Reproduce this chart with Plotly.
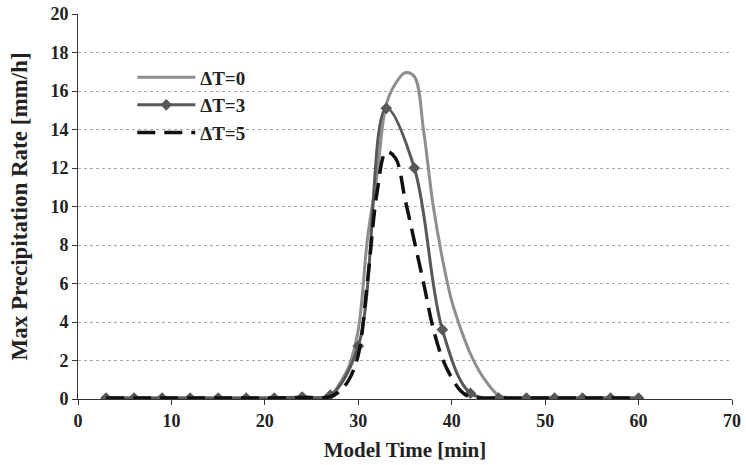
import plotly.graph_objects as go

# ΔT=3: data points (markers) every 3 minutes
time_3 = [3, 6, 9, 12, 15, 18, 21, 24, 27, 30, 33, 36, 39, 42, 45, 48, 51, 54, 57, 60]
dT3 = [0.05, 0.05, 0.05, 0.05, 0.05, 0.05, 0.05, 0.1, 0.2, 2.75, 15.1, 12.0, 3.6, 0.3, 0.05, 0.05, 0.05, 0.05, 0.05, 0.05]

# ΔT=0 and ΔT=5: no markers
time_0 = [3, 6, 9, 12, 15, 18, 21, 24, 27, 28, 29, 30, 31, 32, 33, 34, 35, 36, 37, 38, 39, 40, 41, 42, 43, 44, 45, 46, 48, 51, 54, 57, 60]
dT0 = [0.05, 0.05, 0.05, 0.05, 0.05, 0.05, 0.05, 0.08, 0.15, 0.8, 1.7, 3.6, 8.4, 11.6, 15.3, 16.4, 16.95, 16.75, 13.9, 10.1, 7.3, 5.1, 3.6, 2.35, 1.4, 0.7, 0.2, 0.06, 0.05, 0.05, 0.05, 0.05, 0.05]
time_5 = [3, 6, 9, 12, 15, 18, 21, 24, 27, 28, 29, 30, 31, 32, 33, 34, 35, 36, 37, 38, 39, 40, 41, 42, 45, 48, 51, 54, 57, 60]
dT5 = [0.05, 0.05, 0.05, 0.05, 0.05, 0.05, 0.05, 0.08, 0.12, 0.4, 1.0, 2.3, 6.2, 10.7, 12.85, 12.5, 10.4, 8.2, 6.0, 3.7, 2.1, 1.1, 0.4, 0.1, 0.05, 0.05, 0.05, 0.05, 0.05, 0.05]

names = ["ΔT=0", "ΔT=3", "ΔT=5"]

font_family = "Liberation Serif"

fig = go.Figure()
fig.add_trace(go.Scatter(x=time_0, y=dT0, name=names[0], mode="lines",
                         line=dict(color="#8e8e8e", width=3, shape="spline", smoothing=1.0)))
fig.add_trace(go.Scatter(x=time_3, y=dT3, name=names[1], mode="lines+markers",
                         line=dict(color="#585858", width=3, shape="spline", smoothing=1.0),
                         marker=dict(symbol="diamond", size=9, color="#585858")))
fig.add_trace(go.Scatter(x=time_5, y=dT5, name=names[2], mode="lines",
                         line=dict(color="#111111", width=3.5, shape="spline", smoothing=1.0,
                                   dash="18px,9px")))

fig.update_layout(
    width=746, height=465,
    margin=dict(l=78, r=14, t=14, b=66),
    paper_bgcolor="white", plot_bgcolor="white",
    font=dict(family=font_family, size=18, color="#222222"),
    legend=dict(x=0.083, y=0.885, xanchor="left", yanchor="top",
                bgcolor="rgba(0,0,0,0)", font=dict(family=font_family, size=19, color="#222222", weight="bold"),
                tracegroupgap=0, itemwidth=58),
    showlegend=True,
)
fig.update_xaxes(range=[0, 70], dtick=10, tick0=0, showgrid=False, zeroline=False, automargin=False,
                 showline=True, linecolor="#333333", linewidth=1,
                 ticks="outside", ticklen=5, tickcolor="#333333",
                 tickfont=dict(family=font_family, size=18, weight="bold"),
                 title=dict(text="Model Time [min]", font=dict(family=font_family, size=21, weight="bold"), standoff=12))
fig.update_yaxes(range=[0, 20], dtick=2, tick0=0, showgrid=True, gridcolor="#a8a8a8", griddash="dot", gridwidth=1,
                 zeroline=False, showline=True, linecolor="#333333", linewidth=1, automargin=False,
                 ticks="outside", ticklen=5, tickcolor="#333333",
                 tickfont=dict(family=font_family, size=18, weight="bold"),
                 title=dict(text="Max Precipitation Rate [mm/h]", font=dict(family=font_family, size=23, weight="bold"), standoff=16))

fig.write_html("out.html")
